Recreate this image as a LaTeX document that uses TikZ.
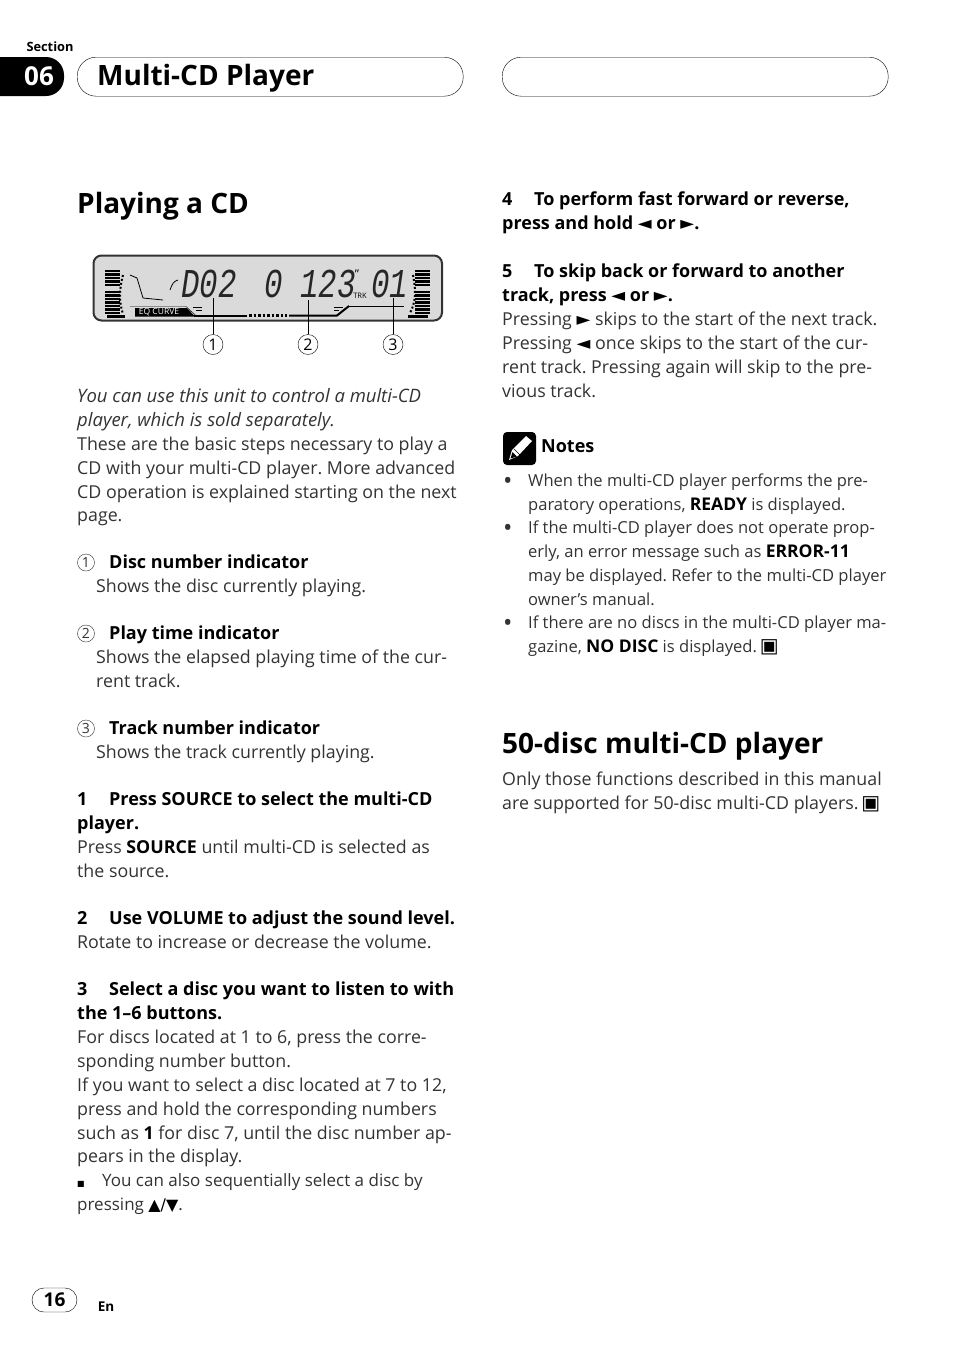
\documentclass[tikz,border=0pt]{standalone}
\usepackage{graphicx}
\usepackage{fontspec}
\setmainfont{Open Sans}
\newfontfamily\symfont{DejaVu Sans}
\newfontfamily\lcdfont{Liberation Mono}
\definecolor{bodygray}{HTML}{333333}
\definecolor{lcdgray}{HTML}{DADADA}
\frenchspacing
\newcommand{\bfx}[1]{{\bfseries\color{black}#1}}
\newcommand{\bfn}[1]{{\fontsize{17.5}{23.8}\selectfont\bfseries\color{black}#1}}
\newcommand{\lft}{{\symfont\fontsize{18}{18}\selectfont\color{black}◄}}
\newcommand{\rgt}{{\symfont\fontsize{18}{18}\selectfont\color{black}►}}
\newcommand{\stopmark}{{\symfont\fontsize{20}{20}\selectfont\color{black}▣}}
\newcommand{\lcdtxt}[1]{\scalebox{.75}[1]{\lcdfont\itshape #1}}
\newcommand{\stepno}[1]{\makebox[32pt][l]{#1}}
\newcommand{\slantline}{\fontsize{18.5}{23.8}\selectfont\itshape}
\newcommand{\notedot}{\raisebox{-2.5pt}{\fontsize{25}{23.8}\selectfont •}}
\usetikzlibrary{positioning}

\begin{document}
\begin{tikzpicture}[x=1pt,y=-1pt,
	bodytext/.style={anchor=north west,inner sep=0pt,yshift=-1pt,align=left,text=bodygray,font=\fontsize{17.8}{23.8}\selectfont},
	boldtext/.style={bodytext,text=black,font=\fontsize{18}{23.8}\selectfont\bfseries},
	notetext/.style={bodytext,font=\fontsize{16.55}{23.8}\selectfont},
	tiptext/.style={bodytext,font=\fontsize{17}{23.8}\selectfont},
	bighead/.style={anchor=base west,inner sep=0pt,font=\fontsize{28}{30}\selectfont\bfseries},
	pill/.style={draw,rounded corners=19pt,minimum width=386pt,minimum height=39pt,anchor=north west,inner sep=0pt},
	numcirc/.style={circle,draw=bodygray,inner sep=0pt,minimum size=17pt,text=bodygray,font=\fontsize{14}{14}\selectfont},
	lcdnum/.style={circle,draw,inner sep=0pt,minimum size=20pt,font=\fontsize{16}{16}\selectfont},
	lcdbar/.style={line width=2.4pt},
	lcdword/.style={inner sep=0pt,anchor=base west,text=black!85,font=\fontsize{41}{41}\selectfont}]

	\useasboundingbox (0,0) rectangle (954,1352);
	\fill[white] (0,0) rectangle (954,1352);

	\node[anchor=base,inner sep=0pt,font=\fontsize{12.8}{14}\selectfont\bfseries] (section) at (50,51) {Section};
	\fill[black,rounded corners=18pt] (-30,57) rectangle (64,96);
	\node[text=white,inner sep=0pt,font=\fontsize{26}{28}\selectfont\bfseries] (chapter) at (39,76) {06};
	\node[pill] (titlebar) at (77,57) {};
	\node[pill] (emptybar) at (502,57) {};
	\node[bighead] (title) at (97,85) {Multi-CD Player};

	\node[bighead] (playing) at (77,213) {Playing a CD};

	\draw[line width=2pt,fill=lcdgray,rounded corners=8pt,draw=black!80] (93.5,255.5) rectangle (442,320.5);
	\foreach \y in {271,274.5,278,281.5,285,292,295.5,299,302.5,306,309.5,313}
	{
		\draw[lcdbar] (105,\y) -- (120,\y);
		\draw[lcdbar] (415,\y) -- (430,\y);
	}
	\draw[line width=2pt,dotted] (123,275) .. controls (119,290) and (119,302) .. (123,314);
	\draw[line width=2pt,dotted] (413,275) .. controls (416,290) and (416,302) .. (410,313);
	\draw[line width=3pt] (107,316) -- (125,316);
	\draw[line width=3pt] (408,316) -- (428,316);
	\draw[thick] (130,275) -- (137,278) -- (143,298) -- (163,300);
	\draw[thick] (170,290) .. controls (172,284) and (174,281) .. (178,280);
	\draw (130,306.5) -- (186,306.5) -- (197,316.5);
	\fill[black] (135,308) -- (187,308) -- (195,316.5) -- (135,316.5) -- cycle;
	\node[text=white,inner sep=0pt,font=\fontsize{8.5}{9}\selectfont] (eqcurve) at (159,312.5) {EQ CURVE};
	\draw[line width=2pt] (194,315.5) -- (247,315.5);
	\draw[line width=2.5pt,dotted] (249,315.5) -- (287,315.5);
	\draw[line width=2pt] (289,315.5) -- (337,315.5) -- (349,306);
	\draw (349,306) -- (404,306);
	\draw (193,307) -- (202,307) (196,310) -- (202,310);
	\draw (334,307) -- (343,307) (334,310) -- (339,310);
	\node[lcdword] (disc) at (181,297) {\lcdtxt{D02}};
	\node[lcdword] (mins) at (264,297) {\lcdtxt{0}};
	\node[lcdword] (secs) at (300,297) {\lcdtxt{123}};
	\node[inner sep=0pt,font=\fontsize{12}{12}\selectfont] (quote) at (357,274) {"};
	\node[inner sep=0pt,font=\fontsize{7.5}{8}\selectfont] (trk) at (360,296) {TRK};
	\node[lcdword] (track) at (371,297) {\lcdtxt{01}};

	\node[lcdnum] (c1) at (213,344.5) {1};
	\node[lcdnum] (c2) at (308,344.5) {2};
	\node[lcdnum] (c3) at (393,344.5) {3};
	\coordinate (t1) at (213,298);
	\coordinate (t2) at (308,300);
	\coordinate (t3) at (393,298);
	\path (c1) edge (t1)
	(c2) edge (t2)
	(c3) edge (t3);

	\node[bodytext] (intro) at (77,385) {\slantline\strut You can use this unit to control a multi-CD\\\slantline player, which is sold separately.\\These are the basic steps necessary to play a\\CD with your multi-CD player. More advanced\\CD operation is explained starting on the next\\page.};

	\node[numcirc] (n1) at (86,562.5) {1};
	\node[boldtext] (ind1) at (109,551) {\strut Disc number indicator};
	\node[bodytext] (ind1b) at (96,575) {\strut Shows the disc currently playing.};

	\node[numcirc] (n2) at (86,633.5) {2};
	\node[boldtext] (ind2) at (109,622) {\strut Play time indicator};
	\node[bodytext] (ind2b) at (96,646) {\strut Shows the elapsed playing time of the cur-\\rent track.};

	\node[numcirc] (n3) at (86,728.5) {3};
	\node[boldtext] (ind3) at (109,717) {\strut Track number indicator};
	\node[bodytext] (ind3b) at (96,741) {\strut Shows the track currently playing.};

	\node[boldtext] (step1) at (77,788) {\strut\stepno{1}Press SOURCE to select the multi-CD\\player.};
	\node[bodytext] (step1b) at (77,836) {\strut Press \bfx{SOURCE} until multi-CD is selected as\\the source.};

	\node[boldtext] (step2) at (77,907) {\strut\stepno{2}Use VOLUME to adjust the sound level.};
	\node[bodytext] (step2b) at (77,931) {\strut Rotate to increase or decrease the volume.};

	\node[boldtext] (step3) at (77,978) {\strut\stepno{3}Select a disc you want to listen to with\\the 1–6 buttons.};
	\node[bodytext] (step3b) at (77,1026) {\strut For discs located at 1 to 6, press the corre-\\sponding number button.\\If you want to select a disc located at 7 to 12,\\press and hold the corresponding numbers\\such as \bfx{1} for disc 7, until the disc number ap-\\pears in the display.};
	\node[tiptext] (tip) at (77,1169) {\strut\makebox[25pt][l]{\symfont\fontsize{8}{8}\selectfont\color{black}■}You can also sequentially select a disc by\\pressing {\symfont\fontsize{16}{16}\selectfont\color{black}▲/▼}.};

	\node[boldtext] (step4) at (502,188) {\strut\stepno{4}To perform fast forward or reverse,\\press and hold \lft{} or \rgt{}.};
	\node[boldtext] (step5) at (502,260) {\strut\stepno{5}To skip back or forward to another\\track, press \lft{} or \rgt{}.};
	\node[bodytext] (step5b) at (502,308) {\strut Pressing \rgt{} skips to the start of the next track.\\Pressing \lft{} once skips to the start of the cur-\\rent track. Pressing again will skip to the pre-\\vious track.};

	\fill[black,rounded corners=4pt] (503,432) rectangle (536,465);
	\fill[white] (509,460) -- (512,450) -- (526,436) -- (532,441) -- (518,456) -- cycle;
	\fill[black] (510.5,458.5) -- (512.5,452) -- (517,456.5) -- cycle;
	\draw[black] (514,449) -- (520,455);
	\node[boldtext] (notes) at (541,435) {\strut Notes};

	\node[bodytext] (b1) at (503,469) {\strut\notedot};
	\node[notetext] (note1) at (528,469) {\strut When the multi-CD player performs the pre-\\paratory operations, \bfn{READY} is displayed.};
	\node[bodytext] (b2) at (503,516) {\strut\notedot};
	\node[notetext] (note2) at (528,516) {\strut If the multi-CD player does not operate prop-\\erly, an error message such as \bfn{ERROR-11}\\may be displayed. Refer to the multi-CD player\\owner’s manual.};
	\node[bodytext] (b3) at (503,611) {\strut\notedot};
	\node[notetext] (note3) at (528,611) {\strut If there are no discs in the multi-CD player ma-\\gazine, \bfn{NO DISC} is displayed.\,\stopmark};

	\node[bighead] (fifty) at (502,753) {50-disc multi-CD player};
	\node[bodytext] (fiftyb) at (502,768) {\strut Only those functions described in this manual\\are supported for 50-disc multi-CD players.\,\stopmark};

	\draw[rounded corners=12pt] (32,1288) rectangle (77,1312);
	\node[inner sep=0pt,font=\fontsize{19}{20}\selectfont\bfseries] (page) at (54.5,1300) {16};
	\node[inner sep=0pt,font=\fontsize{13.5}{14}\selectfont\bfseries] (lang) at (106,1307) {En};
\end{tikzpicture}
\end{document}
